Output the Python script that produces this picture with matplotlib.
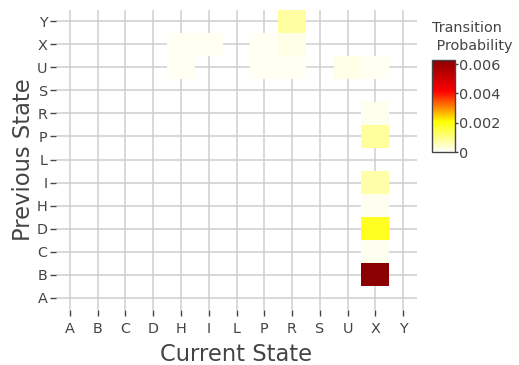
import numpy as np
import matplotlib
matplotlib.use("Agg")
import matplotlib.pyplot as plt
from matplotlib.colors import LinearSegmentedColormap

# State labels on both axes
curr_states = ["A", "B", "C", "D", "H", "I", "L", "P", "R", "S", "U", "X", "Y"]
prev_states = ["A", "B", "C", "D", "H", "I", "L", "P", "R", "S", "U", "X", "Y"]

# Non-zero transitions: previous state, current state, probability
trans_prev = ["X", "U", "X", "X", "U", "Y", "X", "U", "U", "U",
              "R", "P", "I", "H", "D", "C", "B"]
trans_curr = ["H", "H", "I", "P", "P", "R", "R", "R", "U", "X",
              "X", "X", "X", "X", "X", "X", "X"]
trans_prob = [0.00012, 0.00012, 0.00012, 0.00012, 0.00012, 0.00078, 0.00022, 0.00012,
              0.00022, 0.00012,
              0.00016, 0.00082, 0.00072, 0.00013, 0.00180, 0.00013, 0.00628]

z = np.full((len(prev_states), len(curr_states)), np.nan)
for p, c, v in zip(trans_prev, trans_curr, trans_prob):
    z[prev_states.index(p), curr_states.index(c)] = v

cmap = LinearSegmentedColormap.from_list(
    "wyrdr", [(0.0, "#ffffff"), (0.33, "#ffff00"), (0.66, "#ff0000"), (1.0, "#8b0000")])

W, H = 519, 365
fig = plt.figure(figsize=(W / 100, H / 100), dpi=100)
fig.patch.set_facecolor("white")

def px_axes(x0, y0, x1, y1):
    return fig.add_axes([x0 / W, 1 - y1 / H, (x1 - x0) / W, (y1 - y0) / H])

ax = px_axes(56, 9.5, 417, 309.5)
ax.set_facecolor("white")
for s in ax.spines.values():
    s.set_visible(False)

text_color = "#444444"
grid_color = "#cfcfcf"
tick_size = 10.4

n = len(curr_states)
ax.set_xlim(-0.5, n - 0.5)
ax.set_ylim(-0.5, len(prev_states) - 0.5)
ax.set_xticks(range(n))
ax.set_xticklabels(curr_states)
ax.set_yticks(range(len(prev_states)))
ax.set_yticklabels(prev_states)
ax.set_axisbelow(True)
ax.grid(True, color=grid_color, linewidth=1.1)

mesh = ax.pcolormesh(np.arange(n + 1) - 0.5, np.arange(len(prev_states) + 1) - 0.5,
                     np.ma.masked_invalid(z), cmap=cmap, vmin=0, vmax=max(trans_prob),
                     zorder=2)

ax.tick_params(axis="both", colors=text_color, labelcolor=text_color, labelsize=tick_size,
               length=4, width=1, direction="out", pad=2)
ax.tick_params(axis="x", pad=5)
ax.set_xlabel("Current State", fontsize=16.3, color=text_color, labelpad=5)
ax.set_ylabel("Previous State", fontsize=16.3, color=text_color, labelpad=1)

# Colour bar
cax = px_axes(432, 60, 455, 152)
cb = fig.colorbar(mesh, cax=cax, ticks=[0, 0.002, 0.004, 0.006])
cb.ax.set_yticklabels(["0", "0.002", "0.004", "0.006"])
cb.outline.set_edgecolor(text_color)
cb.outline.set_linewidth(1.0)
cb.ax.tick_params(colors=text_color, labelcolor=text_color, labelsize=tick_size,
                  length=2, width=1, pad=1)
fig.text(432 / W, 1 - 50 / H, "Transition\n Probability", fontsize=tick_size,
         color=text_color, ha="left", va="baseline", linespacing=1.35)

fig.savefig("out.png", dpi=100)
